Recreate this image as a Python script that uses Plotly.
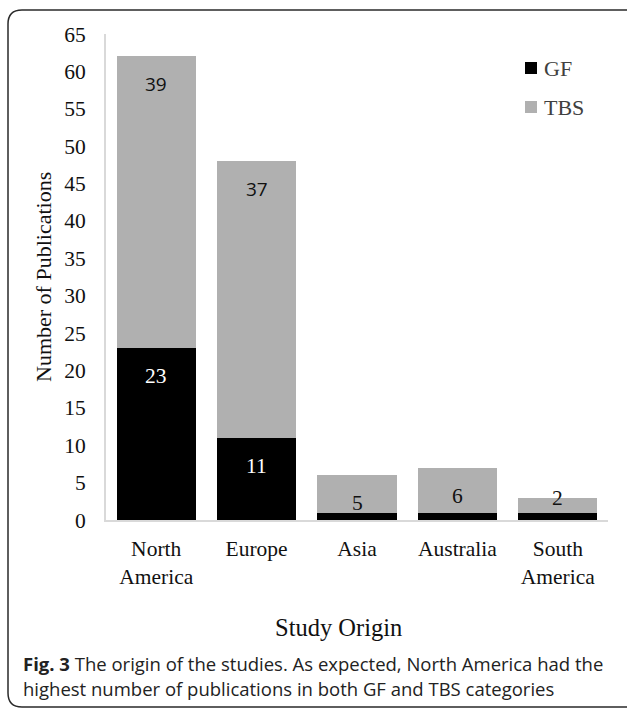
import plotly.graph_objects as go

# ---- data ----
regions = ["North America", "Europe", "Asia", "Australia", "South America"]
tick_labels = ["North<br>America", "Europe", "Asia", "Australia", "South<br>America"]
series_names = ["GF", "TBS"]
series_colors = ["#000000", "#b0b0b0"]
gf_values = [23, 11, 1, 1, 1]
tbs_values = [39, 37, 5, 6, 2]
y_ticks = list(range(0, 70, 5))

W, H = 627, 710
L, R, T, B = 106, 19, 34, 190
PW, PH = W - L - R, H - T - B


def px(xp):
    return (xp - L) / PW


def py(yp):
    return (H - B - yp) / PH


SERIF = "Liberation Serif, Times New Roman, serif"
SANS = "Open Sans, Liberation Sans, sans-serif"

fig = go.Figure()
for name, color, vals in zip(series_names, series_colors, [gf_values, tbs_values]):
    fig.add_trace(go.Bar(name=name, x=regions, y=vals, showlegend=False,
                         marker=dict(color=color, line=dict(width=0))))

annotations = []
shapes = []
# GF labels (white), only where segment is tall enough
for r, v in zip(regions, gf_values):
    if v > 1:
        annotations.append(dict(x=r, y=v, xref="x", yref="y", text=str(v), showarrow=False,
                                yshift=-28, font=dict(family=SERIF, size=21.5, color="#ffffff")))
# TBS labels (black)
for r, g, t in zip(regions, gf_values, tbs_values):
    top = g + t
    fam = SANS if t > 20 else SERIF
    size = 19 if t > 20 else 21.5
    shift = -28 if t >= 3 else 0
    annotations.append(dict(x=r, y=top, xref="x", yref="y", text=str(t), showarrow=False,
                            yshift=shift, font=dict(family=fam, size=size, color="#111111")))

# legend (square + label)
for i, (name, color) in enumerate(zip(series_names, series_colors)):
    cy = 68 + 39 * i
    shapes.append(dict(type="rect", xref="paper", yref="paper",
                       x0=px(525), x1=px(537), y0=py(cy - 6), y1=py(cy + 6),
                       fillcolor=color, line=dict(width=0)))
    annotations.append(dict(x=px(542), y=py(cy), xref="paper", yref="paper", text=name,
                            showarrow=False, xanchor="left", yanchor="middle",
                            font=dict(family=SERIF, size=22, color="#404040")))

# axis titles
annotations.append(dict(x=px(43), y=0.5, xref="paper", yref="paper", text="Number of Publications",
                        textangle=-90, showarrow=False, xanchor="center", yanchor="middle",
                        font=dict(family=SERIF, size=22, color="#111111")))
annotations.append(dict(x=px(338), y=py(627), xref="paper", yref="paper", text="Study Origin",
                        showarrow=False, xanchor="center", yanchor="middle",
                        font=dict(family=SERIF, size=24.5, color="#111111")))
# caption (two lines)
caption_lines = ["<b>Fig. 3</b> The origin of the studies. As expected, North America had the",
                 "highest number of publications in both GF and TBS categories"]
for i, line in enumerate(caption_lines):
    annotations.append(dict(x=px(22), y=py(663 + 25 * i), xref="paper", yref="paper", text=line,
                            showarrow=False, xanchor="left", yanchor="middle", align="left",
                            borderpad=0,
                            font=dict(family=SANS, size=18.5, color="#222222")))

# rounded frame
x0, y0, x1, y1, rr = 8, 10, 660, 707, 14
path = (f"M {px(x0)},{py(y0 + rr)} L {px(x0)},{py(y1 - rr)} Q {px(x0)},{py(y1)} {px(x0 + rr)},{py(y1)} "
        f"L {px(x1)},{py(y1)} L {px(x1)},{py(y0)} L {px(x0 + rr)},{py(y0)} "
        f"Q {px(x0)},{py(y0)} {px(x0)},{py(y0 + rr)}")
shapes.append(dict(type="path", xref="paper", yref="paper", path=path,
                   line=dict(color="#2a2a2a", width=1.5), fillcolor="rgba(0,0,0,0)", layer="below"))

fig.update_layout(
    width=W, height=H,
    margin=dict(l=L, r=R, t=T, b=B, autoexpand=False),
    barmode="stack", bargap=0.21,
    plot_bgcolor="white", paper_bgcolor="white",
    font=dict(family=SERIF, size=21.5, color="#111111"),
    showlegend=False,
    annotations=annotations,
    shapes=shapes,
)
fig.update_xaxes(tickvals=regions, ticktext=tick_labels, showline=True, linecolor="#d9d9d9", linewidth=2,
                 ticks="", showgrid=False, zeroline=False, tickfont=dict(family=SERIF, size=21.5, color="#111111"),
                 ticklabelstandoff=8)
fig.update_yaxes(range=[0, 65], tickvals=y_ticks, showline=True, linecolor="#d9d9d9", linewidth=2,
                 ticks="", showgrid=False, zeroline=False, tickfont=dict(family=SERIF, size=21.5, color="#111111"),
                 ticklabelstandoff=14)

fig.write_html("out.html", config={"displayModeBar": False},
               post_script="document.body.style.margin='0';document.body.style.padding='0';")
